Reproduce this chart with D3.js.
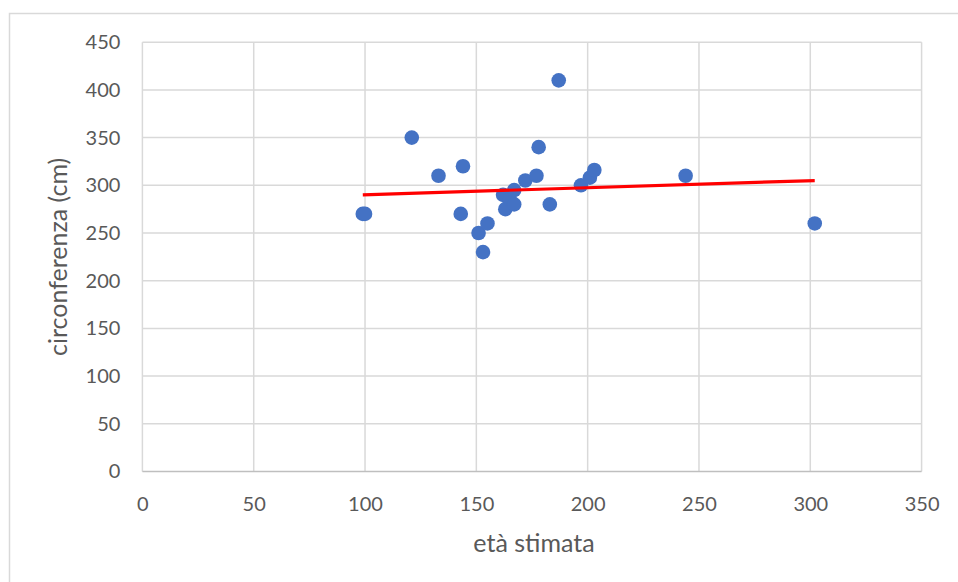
<!DOCTYPE html>
<html>
<head>
<meta charset="utf-8">
<script src="https://cdn.jsdelivr.net/npm/d3@7"></script>
<style>
  html, body { margin: 0; padding: 0; background: #fff; }
  svg { display: block; }
  text { font-family: Lato, "Open Sans", sans-serif; fill: #595959; }
</style>
</head>
<body>
<svg id="chart" width="958" height="582"></svg>
<script>
// Estimated age (years) and trunk circumference (cm) of each tree
const eta = [99, 100, 121, 133, 143, 144, 151, 153, 155, 162, 163, 165, 167, 167, 172, 177, 178, 183, 187, 197, 201, 203, 244, 302];
const circonferenza = [270, 270, 350, 310, 270, 320, 250, 230, 260, 290, 275, 285, 280, 295, 305, 310, 340, 280, 410, 300, 308, 316, 310, 260];

// Linear trend line end points
const trendX = [99, 302];
const trendY = [290, 305];

const xTicks = [0, 50, 100, 150, 200, 250, 300, 350];
const yTicks = [0, 50, 100, 150, 200, 250, 300, 350, 400, 450];

const svg = d3.select("#chart");
const plot = { left: 142.4, right: 921.6, top: 42.2, bottom: 471.5 };

const x = d3.scaleLinear().domain([0, 350]).range([plot.left, plot.right]);
const y = d3.scaleLinear().domain([0, 450]).range([plot.bottom, plot.top]);

// Chart area frame
svg.append("rect")
  .attr("x", 9.5).attr("y", 13.5)
  .attr("width", 960).attr("height", 580)
  .attr("fill", "none").attr("stroke", "#d9d9d9").attr("stroke-width", 1.5);

// Gridlines
svg.append("g").selectAll("line").data(yTicks.filter(d => d > 0)).join("line")
  .attr("x1", plot.left).attr("x2", plot.right)
  .attr("y1", d => y(d)).attr("y2", d => y(d))
  .attr("stroke", "#d9d9d9").attr("stroke-width", 1.5);
svg.append("g").selectAll("line").data(xTicks).join("line")
  .attr("x1", d => x(d)).attr("x2", d => x(d))
  .attr("y1", plot.top).attr("y2", plot.bottom)
  .attr("stroke", "#d9d9d9").attr("stroke-width", 1.5);

// Horizontal axis line
svg.append("line")
  .attr("x1", plot.left).attr("x2", plot.right)
  .attr("y1", y(0)).attr("y2", y(0))
  .attr("stroke", "#bfbfbf").attr("stroke-width", 1.5);

// Tick labels via d3 axes (no domain / tick lines)
const xAxis = svg.append("g")
  .attr("transform", `translate(0,${plot.bottom})`)
  .call(d3.axisBottom(x).tickValues(xTicks).tickSize(0).tickPadding(25));
xAxis.select(".domain").remove();
xAxis.selectAll("text").style("font-size", "20px").attr("fill", "#595959")
  .style("font-family", "Lato, 'Open Sans', sans-serif");

const yAxis = svg.append("g")
  .attr("transform", `translate(${plot.left},0)`)
  .call(d3.axisLeft(y).tickValues(yTicks).tickSize(0).tickPadding(22));
yAxis.select(".domain").remove();
yAxis.selectAll("text").style("font-size", "20px").attr("fill", "#595959")
  .style("font-family", "Lato, 'Open Sans', sans-serif");

// Axis titles
svg.append("text")
  .attr("x", 534).attr("y", 552)
  .attr("text-anchor", "middle")
  .style("font-size", "25px")
  .text("età stimata");
svg.append("text")
  .attr("transform", `translate(67,${(plot.top + plot.bottom) / 2}) rotate(-90)`)
  .attr("text-anchor", "middle")
  .style("font-size", "25px")
  .text("circonferenza (cm)");

// Data points
svg.append("g").selectAll("circle").data(eta.map((d, i) => [d, circonferenza[i]])).join("circle")
  .attr("cx", d => x(d[0])).attr("cy", d => y(d[1]))
  .attr("r", 7.3)
  .attr("fill", "#4472c4");

// Trend line
svg.append("path")
  .datum(trendX.map((d, i) => [d, trendY[i]]))
  .attr("d", d3.line().x(d => x(d[0])).y(d => y(d[1])))
  .attr("stroke", "#ff0000").attr("stroke-width", 3.2)
  .attr("fill", "none");
</script>
</body>
</html>
